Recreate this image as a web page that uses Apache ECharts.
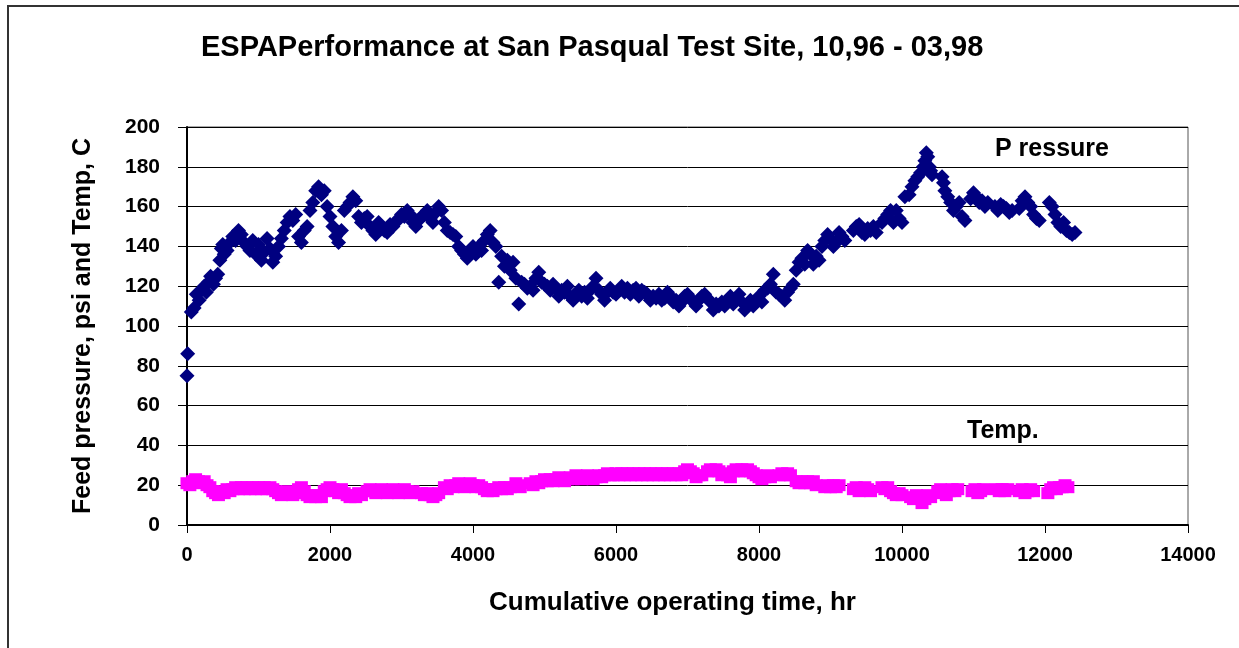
<!DOCTYPE html>
<html>
<head>
<meta charset="utf-8">
<title>ESPA Performance</title>
<script src="https://cdn.jsdelivr.net/npm/echarts@6.0.0/dist/echarts.min.js"></script>
<style>
  html, body { margin: 0; padding: 0; background: #fff; }
  #chart { width: 1239px; height: 648px; }
</style>
</head>
<body>
<div id="chart"></div>
<script>
// [hours, psi]
var pressure = [
  [0,75],[10,86],[60,107],[100,109],[130,116],[170,113],[200,118],[240,120],[270,117],[300,122],
  [330,125],[370,121],[400,124],[430,126],[460,133],[480,139],[500,141],[520,136],[560,138],[600,142],
  [640,145],[680,143],[720,148],[760,146],[800,142],[840,140],[880,138],[920,143],[960,136],[1000,141],
  [1040,133],[1080,137],[1120,144],[1160,139],[1200,132],[1240,135],[1280,140],[1320,144],[1360,148],[1400,152],
  [1440,155],[1480,153],[1520,156],[1560,145],[1600,142],[1640,148],[1680,150],[1720,158],[1760,162],[1800,168],
  [1840,170],[1880,166],[1920,168],[1960,160],[2000,155],[2040,150],[2080,145],[2120,142],[2160,148],[2200,158],
  [2240,160],[2280,162],[2320,165],[2360,163],[2400,155],[2440,152],[2480,154],[2520,155],[2560,150],[2600,148],
  [2640,146],[2680,152],[2720,150],[2760,148],[2800,147],[2840,151],[2880,150],[2920,152],[2960,154],[3000,156],
  [3040,155],[3080,158],[3120,156],[3160,152],[3200,150],[3240,153],[3280,155],[3320,156],[3360,158],[3400,154],
  [3440,152],[3480,157],[3520,160],[3560,158],[3600,152],[3640,148],[3680,147],[3720,146],[3760,145],[3800,140],
  [3840,138],[3880,136],[3920,134],[3960,138],[4000,140],[4040,136],[4080,140],[4120,138],[4160,143],[4200,146],
  [4240,148],[4280,142],[4320,140],[4360,122],[4400,135],[4440,130],[4480,133],[4520,128],[4560,132],[4600,124],
  [4640,111],[4680,122],[4720,121],[4760,119],[4800,120],[4840,118],[4880,124],[4920,127],[4960,122],[5000,121],
  [5040,120],[5080,118],[5120,121],[5160,119],[5200,115],[5240,118],[5280,117],[5320,120],[5360,115],[5400,113],
  [5440,116],[5480,118],[5520,115],[5560,117],[5600,114],[5640,118],[5680,120],[5720,124],[5760,118],[5800,116],
  [5840,113],[5880,117],[5920,119],[5960,117],[6000,116],[6040,118],[6080,120],[6120,117],[6160,119],[6200,116],
  [6240,118],[6280,119],[6320,115],[6360,118],[6400,117],[6440,116],[6480,113],[6520,115],[6560,114],[6600,116],
  [6640,113],[6680,114],[6720,117],[6760,115],[6800,112],[6840,113],[6880,110],[6920,112],[6960,115],[7000,116],
  [7040,114],[7080,112],[7120,110],[7160,113],[7200,115],[7240,116],[7280,114],[7320,112],[7360,108],[7400,111],
  [7440,110],[7480,112],[7520,110],[7560,113],[7600,115],[7640,111],[7680,113],[7720,116],[7760,112],[7800,108],
  [7840,111],[7880,113],[7920,110],[7960,113],[8000,115],[8040,112],[8080,118],[8120,119],[8160,121],[8200,126],
  [8240,117],[8280,116],[8320,115],[8360,113],[8400,117],[8440,119],[8480,121],[8520,128],[8560,132],[8600,134],
  [8640,131],[8680,138],[8720,136],[8760,131],[8800,135],[8840,133],[8880,140],[8920,143],[8960,146],[9000,144],
  [9040,140],[9080,142],[9120,147],[9160,145],[9200,143],[9320,148],[9360,150],[9400,151],[9440,147],[9480,146],
  [9520,149],[9560,148],[9600,150],[9640,147],[9720,152],[9760,154],[9800,156],[9840,158],[9880,152],[9920,158],
  [9960,154],[10000,152],[10040,165],[10100,166],[10140,170],[10180,173],[10220,175],[10260,177],[10300,180],[10320,183],
  [10340,187],[10360,185],[10380,180],[10400,178],[10420,176],[10560,175],[10580,172],[10600,168],[10640,165],[10680,162],
  [10720,158],[10760,160],[10800,162],[10840,155],[10880,153],[10960,164],[11000,167],[11040,165],[11080,162],[11120,163],
  [11160,160],[11200,162],[11300,160],[11340,158],[11380,161],[11420,160],[11460,159],[11500,157],[11540,158],[11640,159],
  [11680,163],[11720,165],[11760,162],[11800,160],[11840,156],[11880,154],[11920,153],[12060,162],[12100,160],[12140,156],
  [12180,152],[12220,150],[12260,152],[12300,148],[12340,147],[12380,146],[12420,147]
];

// [hours, deg C]
var temp = [
  [0,21],[40,20],[80,22],[120,23],[160,22],[200,21],[240,22],[280,20],[320,19],[360,17],
  [400,16],[440,15],[480,17],[520,16],[560,18],[600,17],[640,18],[680,19],[720,18],[760,19],
  [800,18],[840,19],[880,18],[920,19],[960,18],[1000,19],[1040,18],[1080,19],[1120,18],[1160,19],
  [1200,18],[1240,17],[1280,16],[1320,15],[1360,16],[1400,17],[1440,16],[1480,15],[1520,16],[1560,18],
  [1600,19],[1640,17],[1680,15],[1720,14],[1760,15],[1800,14],[1840,15],[1880,14],[1920,17],[1960,18],
  [2000,19],[2040,18],[2080,17],[2120,16],[2160,18],[2200,16],[2240,15],[2280,14],[2320,15],[2360,14],
  [2400,16],[2440,15],[2520,17],[2560,18],[2600,17],[2640,16],[2680,17],[2720,18],[2760,17],[2800,16],
  [2840,17],[2880,18],[2920,17],[2960,16],[3000,17],[3040,18],[3080,17],[3120,16],[3160,17],[3280,16],
  [3320,15],[3360,16],[3400,15],[3440,14],[3480,15],[3520,16],[3600,19],[3640,18],[3680,20],[3720,19],
  [3760,20],[3800,21],[3840,20],[3880,19],[3920,20],[3960,21],[4000,20],[4040,19],[4080,20],[4120,19],
  [4160,18],[4200,17],[4240,18],[4280,17],[4320,18],[4360,19],[4400,18],[4440,19],[4480,18],[4520,19],
  [4600,21],[4640,20],[4660,19],[4800,21],[4840,20],[4880,22],[4920,21],[4960,22],[5000,23],[5040,22],
  [5080,23],[5120,22],[5160,23],[5200,24],[5240,23],[5280,22],[5320,23],[5360,24],[5400,23],[5440,25],
  [5480,24],[5520,23],[5560,24],[5600,25],[5640,24],[5680,23],[5720,24],[5760,25],[5800,24],[5840,25],
  [5880,26],[5920,25],[5960,25],[6000,26],[6040,25],[6080,26],[6120,25],[6160,26],[6200,25],[6240,26],
  [6280,25],[6320,26],[6360,25],[6400,26],[6440,25],[6480,26],[6520,25],[6560,26],[6600,25],[6640,26],
  [6680,25],[6720,26],[6760,25],[6800,26],[6840,25],[6880,26],[6920,25],[6960,27],[7000,28],[7040,27],
  [7080,26],[7120,24],[7160,25],[7200,25],[7280,27],[7320,28],[7360,27],[7400,28],[7440,27],[7480,25],
  [7520,26],[7560,25],[7600,24],[7640,27],[7680,28],[7720,27],[7760,28],[7800,27],[7840,28],[7880,27],
  [7920,26],[7960,25],[8000,24],[8040,23],[8080,24],[8120,25],[8160,24],[8280,25],[8320,26],[8360,25],
  [8400,26],[8440,25],[8520,22],[8560,21],[8600,22],[8640,21],[8680,22],[8720,21],[8760,22],[8800,20],
  [8920,19],[8960,20],[9000,19],[9040,20],[9080,19],[9120,20],[9320,18],[9360,19],[9400,17],[9440,18],
  [9480,19],[9520,18],[9560,17],[9720,19],[9760,18],[9800,19],[9840,17],[9880,16],[9920,15],[9960,16],
  [10000,15],[10120,14],[10160,13],[10200,15],[10240,14],[10280,11],[10320,13],[10360,15],[10400,14],[10500,17],
  [10540,18],[10580,16],[10620,15],[10660,17],[10700,18],[10740,17],[10780,18],[10980,17],[11020,18],[11060,16],
  [11100,17],[11140,18],[11320,18],[11360,17],[11400,18],[11440,17],[11480,18],[11640,17],[11680,18],[11720,16],
  [11760,17],[11800,18],[11840,17],[12040,16],[12080,18],[12120,19],[12160,18],[12200,19],[12240,19],[12280,20],
  [12320,19]
];

var titleText = "ESPAPerformance at San Pasqual Test Site, 10,96 - 03,98";
var xName = "Cumulative operating time, hr";
var yName = "Feed pressure, psi and Temp, C";

var font = "'Liberation Sans', Arial, sans-serif";
var chart = echarts.init(document.getElementById("chart"));

var option = {
  backgroundColor: "#fff",
  animation: false,
  title: {
    text: titleText,
    left: 196,
    top: 28,
    textStyle: { fontFamily: font, fontWeight: "bold", fontSize: 29, color: "#000" }
  },
  grid: {
    left: 187,
    right: 51,
    top: 127,
    bottom: 123,
    show: true,
    borderColor: "#555",
    borderWidth: 1
  },
  xAxis: {
    type: "value",
    min: 0,
    max: 14000,
    interval: 2000,
    name: xName,
    nameLocation: "middle",
    nameGap: 65,
    nameTextStyle: {
      fontFamily: font, fontWeight: "bold", fontSize: 26, color: "#000",
      padding: [0, 30, 0, 0]
    },
    axisLine: { lineStyle: { color: "#000", width: 2 } },
    axisTick: { show: true, length: 8, lineStyle: { color: "#000" } },
    axisLabel: {
      margin: 20, fontFamily: font, fontWeight: "bold", fontSize: 20, color: "#000",
      formatter: function(v) { return String(v); }
    },
    splitLine: { show: false }
  },
  yAxis: {
    type: "value",
    min: 0,
    max: 200,
    interval: 20,
    name: yName,
    nameLocation: "middle",
    nameGap: 91,
    nameTextStyle: { fontFamily: font, fontWeight: "bold", fontSize: 25, color: "#000" },
    axisLine: { show: true, lineStyle: { color: "#000", width: 2 } },
    axisTick: { show: true, length: 9, lineStyle: { color: "#000" } },
    axisLabel: { margin: 27, fontFamily: font, fontWeight: "bold", fontSize: 21, color: "#000" },
    splitLine: { show: true, lineStyle: { color: "#000", width: 1 } }
  },
  graphic: [
    {
      type: "rect",
      shape: { x: 8, y: 6, width: 1300, height: 700 },
      style: { fill: "none", stroke: "#333", lineWidth: 2 },
      silent: true
    },
    {
      type: "text",
      left: 995,
      top: 137,
      style: { text: "P ressure", font: "bold 25px " + font, fill: "#000" }
    },
    {
      type: "text",
      left: 967,
      top: 419,
      style: { text: "Temp.", font: "bold 25px " + font, fill: "#000" }
    }
  ],
  series: [
    {
      name: "Pressure",
      type: "scatter",
      data: pressure,
      symbol: "diamond",
      symbolSize: 15,
      itemStyle: { color: "#000080", opacity: 1 }
    },
    {
      name: "Temp.",
      type: "scatter",
      data: temp,
      symbol: "rect",
      symbolSize: [13, 12],
      itemStyle: { color: "#ff00ff", opacity: 1 }
    }
  ]
};

chart.setOption(option);
</script>
</body>
</html>
